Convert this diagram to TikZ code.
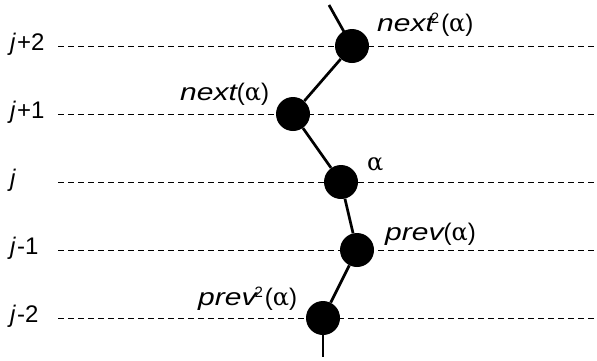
\documentclass[tikz,border=0pt]{standalone}
\usepackage{fontspec}
\setmainfont{Liberation Sans}
\newfontfamily\greekfont{DejaVu Serif}
\usepackage{graphicx}
\newcommand{\widetext}[1]{\scalebox{1.25}[1]{\itshape #1}}
\newcommand{\supnum}[1]{\raisebox{7.5pt}{\fontsize{15}{15}\selectfont #1}}
\newcommand{\alp}{{\greekfont α}}
\tikzset{
  dot/.style={circle, fill=black, minimum size=34pt, inner sep=0pt},
  link/.style={line width=2.7pt},
  level/.style={dash pattern=on 6pt off 4pt, line width=0.9pt},
  lbl/.style={anchor=base west, inner sep=0pt, font=\fontsize{24}{24}\selectfont},
}
\begin{document}
\begin{tikzpicture}[x=1pt,y=-1pt]
\useasboundingbox (0,0) rectangle (597,360);
% level labels
\node[lbl] (l2) at (10,50) {\textit{j}\kern1pt+2};
\node[lbl] (l1) at (10,118) {\textit{j}\kern1pt+1};
\node[lbl] (l0) at (10,186) {\textit{j}};
\node[lbl] (lm1) at (10,254) {\textit{j}\kern1pt-1};
\node[lbl] (lm2) at (10,322) {\textit{j}\kern1pt-2};
% dashed levels
\foreach \y/\n in {46/a,114/b,182/c,250/d,318/e}{
  \coordinate (s\n) at (58,\y);
  \coordinate (t\n) at (597,\y);
  \draw[level] (s\n) -- (t\n);
}
% chain
\coordinate (top) at (329,5);
\coordinate (bot) at (323,357);
\node[dot] (n2) at (352,46) {};
\node[dot] (n1) at (293,114) {};
\node[dot] (a) at (341,182) {};
\node[dot] (p1) at (357,250) {};
\node[dot] (p2) at (323,318) {};
\draw[link] (top) -- (n2.center);
\draw[link] (n2) -- (n1) -- (a) -- (p1) -- (p2);
\draw[link] (p2.center) -- (bot);
% node labels
\node[lbl] (tn2) at (377,31) {\widetext{next}\kern-3pt\supnum{2}\kern2pt(\alp)};
\node[lbl] (tn1) at (180,100) {\widetext{next}(\alp)};
\node[lbl] (ta) at (367,170) {\alp};
\node[lbl] (tp1) at (385,240) {\widetext{prev}(\alp)};
\node[lbl] (tp2) at (198,305) {\widetext{prev}\kern-2pt\supnum{2}\kern2pt(\alp)};
\end{tikzpicture}
\end{document}
